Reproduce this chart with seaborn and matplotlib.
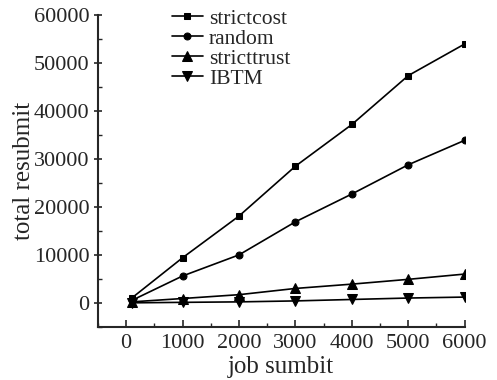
import matplotlib
matplotlib.use('Agg')
import matplotlib.pyplot as plt
import seaborn as sns
import pandas as pd
from matplotlib.ticker import MultipleLocator

# valores
jobs = [100, 1000, 2000, 3000, 4000, 5000, 6000]
strictcost = [1000, 9400, 18100, 28500, 37200, 47400, 54000]
random_ = [500, 5600, 10000, 16900, 22700, 28800, 33900]
stricttrust = [200, 900, 1700, 3000, 3900, 4900, 6000]
ibtm = [0, 100, 200, 400, 700, 1000, 1200]

series = {'strictcost': strictcost, 'random': random_,
          'stricttrust': stricttrust, 'IBTM': ibtm}
markers = {'strictcost': 's', 'random': 'o', 'stricttrust': '^', 'IBTM': 'v'}
sizes = {'strictcost': 4.5, 'random': 5, 'stricttrust': 7.5, 'IBTM': 7.5}

df = pd.concat([pd.DataFrame({'job': jobs, 'valor': v, 'serie': k})
                for k, v in series.items()])

sns.set_style('ticks')
plt.rcParams['font.family'] = ['Liberation Serif', 'DejaVu Serif']

fig, ax = plt.subplots(figsize=(4.97, 3.80), dpi=100)
for nome in series:
    sns.lineplot(data=df[df['serie'] == nome], x='job', y='valor', ax=ax,
                 color='black', marker=markers[nome], markersize=sizes[nome],
                 markeredgecolor='black', linewidth=1.2, label=nome)

ax.set_xlim(-500, 6000)
ax.set_ylim(-5000, 60000)
ax.xaxis.set_major_locator(MultipleLocator(1000))
ax.xaxis.set_minor_locator(MultipleLocator(500))
ax.yaxis.set_major_locator(MultipleLocator(10000))
ax.yaxis.set_minor_locator(MultipleLocator(5000))
ax.tick_params(axis='x', which='major', direction='in', length=5, width=1.2, labelsize=16, pad=5)
ax.tick_params(axis='x', which='minor', direction='in', length=3, width=1)
ax.tick_params(axis='y', which='major', direction='inout', length=6, width=1.2, labelsize=16, pad=3)
ax.tick_params(axis='y', which='minor', direction='in', length=3, width=1)
sns.despine(ax=ax)
for s in ['left', 'bottom']:
    ax.spines[s].set_linewidth(1.5)

ax.set_xlabel('job sumbit', fontsize=18, labelpad=2)
ax.set_ylabel('total resubmit', fontsize=18, labelpad=-1)

ax.legend(loc='upper left', bbox_to_anchor=(0.162, 1.07), frameon=False,
          fontsize=15.5, handlelength=1.4, labelspacing=0.0, borderpad=0.2,
          handletextpad=0.3)

plt.subplots_adjust(left=0.197, right=0.935, top=0.96, bottom=0.14)
plt.savefig('out.png', dpi=100)
